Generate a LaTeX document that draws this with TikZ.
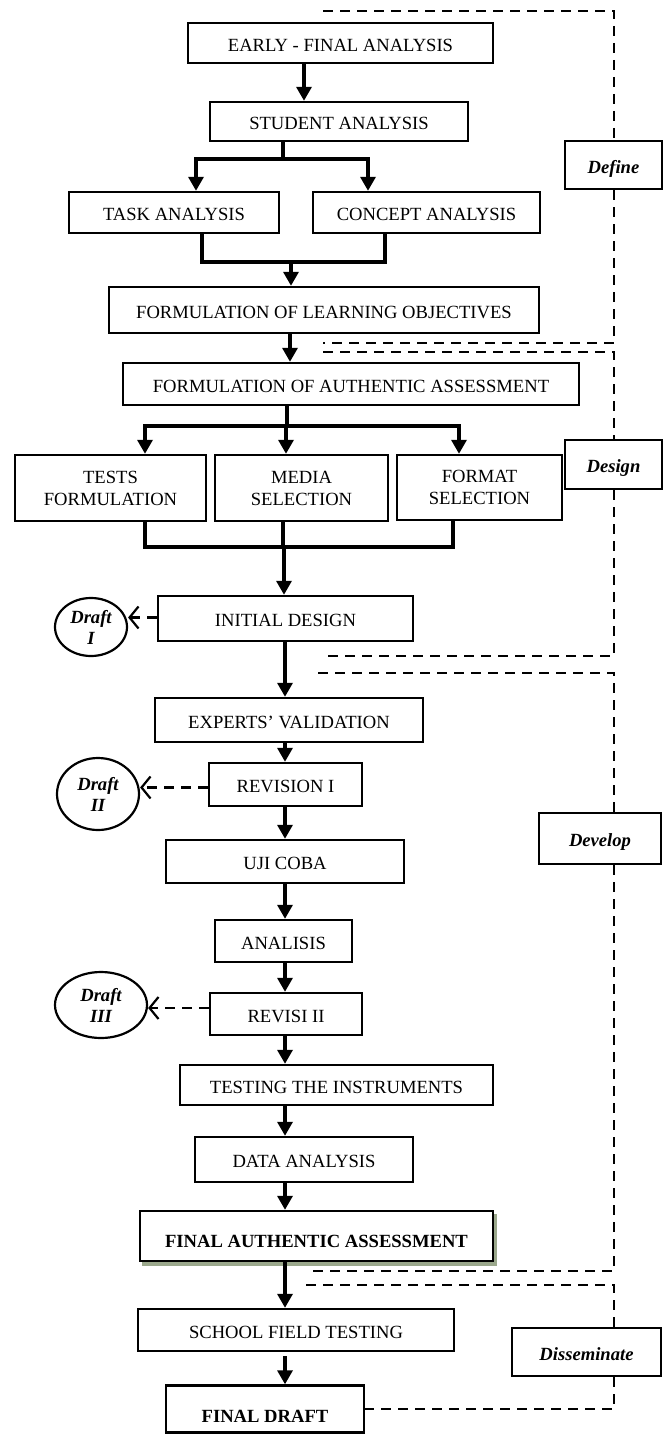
\documentclass[tikz,border=0pt]{standalone}
\usepackage{fontspec}
\setmainfont{Liberation Serif}
\usetikzlibrary{arrows.meta,shapes.geometric,backgrounds}
\definecolor{shadowc}{RGB}{155,168,140}
\begin{document}
\begin{tikzpicture}[x=1pt,y=-1pt,
  box/.style={draw,line width=2.4pt,fill=white,inner sep=0pt,text height=16.3pt,text depth=0pt,font=\fontsize{18.6}{22}\selectfont},
  boxtwo/.style={draw,line width=2.4pt,fill=white,inner sep=0pt,align=center,font=\fontsize{18.6}{22}\selectfont},
  phase/.style={draw,line width=2.2pt,fill=white,inner sep=0pt,text height=16.3pt,text depth=0pt,font=\fontsize{18.6}{22}\selectfont\bfseries\itshape},
  draft/.style={ellipse,draw,line width=2.2pt,fill=white,inner sep=0pt,align=center,font=\fontsize{18.6}{21}\selectfont\bfseries\itshape},
  ln/.style={line width=3.3pt},
  arr/.style={line width=3.3pt,-{Triangle[length=14pt,width=15pt]}},
  dsh/.style={line width=2.4pt,dash pattern=on 10pt off 7pt},
  darr/.style={line width=2.2pt,dash pattern=on 10pt off 7pt,-{Straight Barb[length=9pt,width=22pt,line width=2.2pt]}}
]
\useasboundingbox (0,0) rectangle (664,1434);

% main boxes
\node[box,minimum width=305pt,minimum height=40pt] (early) at (340.5,43) {EARLY - FINAL ANALYSIS};
\node[box,minimum width=258pt,minimum height=39pt] (student) at (339,121.5) {STUDENT ANALYSIS};
\node[box,minimum width=210pt,minimum height=41pt] (task) at (174,212.5) {TASK ANALYSIS};
\node[box,minimum width=227pt,minimum height=41pt] (concept) at (426.5,212.5) {CONCEPT ANALYSIS};
\node[box,minimum width=430pt,minimum height=46pt] (lobj) at (324,310) {FORMULATION OF LEARNING OBJECTIVES};
\node[box,minimum width=456pt,minimum height=42pt] (auth) at (351,384) {FORMULATION OF AUTHENTIC ASSESSMENT};
\node[boxtwo,minimum width=191pt,minimum height=66pt] (tests) at (110.5,488) {TESTS\\FORMULATION};
\node[boxtwo,minimum width=173pt,minimum height=66pt] (media) at (301.5,488) {MEDIA\\SELECTION};
\node[boxtwo,minimum width=165pt,minimum height=65pt] (format) at (479.5,487.5) {FORMAT\\SELECTION};
\node[box,minimum width=255pt,minimum height=45pt] (initial) at (285.5,618.5) {INITIAL DESIGN};
\node[box,minimum width=268pt,minimum height=44pt] (experts) at (289,720) {EXPERTS' VALIDATION};
\node[box,minimum width=153pt,minimum height=43pt] (rev1) at (285.5,784.5) {REVISION I};
\node[box,minimum width=238pt,minimum height=43pt] (uji) at (285,861.5) {UJI COBA};
\node[box,minimum width=137pt,minimum height=42pt] (analisis) at (283.5,941) {ANALISIS};
\node[box,minimum width=152pt,minimum height=42pt] (rev2) at (286,1014) {REVISI II};
\node[box,minimum width=313pt,minimum height=40pt] (testing) at (336.5,1085) {TESTING THE INSTRUMENTS};
\node[box,minimum width=218pt,minimum height=45pt] (data) at (304,1159.5) {DATA ANALYSIS};
\node[box,minimum width=353pt,minimum height=50pt,text height=23.3pt,font=\fontsize{18.6}{22}\selectfont\bfseries] (finalauth) at (316.5,1236) {FINAL AUTHENTIC ASSESSMENT};
\node[box,minimum width=316pt,minimum height=42pt] (school) at (296,1330) {SCHOOL FIELD TESTING};
\node[box,minimum width=198pt,minimum height=47pt,text height=26.3pt,font=\fontsize{18.6}{22}\selectfont\bfseries] (finaldraft) at (265,1409) {FINAL DRAFT};

\begin{scope}[on background layer]
\fill[shadowc] ([xshift=3pt,yshift=-4pt]finalauth.south west) rectangle ([xshift=3pt,yshift=-4pt]finalauth.north east);
\end{scope}

% phase boxes
\node[phase,minimum width=97pt,minimum height=48pt] (define) at (613.5,165) {Define};
\node[phase,minimum width=97pt,minimum height=49pt] (design) at (613.5,464.5) {Design};
\node[phase,minimum width=122pt,minimum height=51pt] (develop) at (600,838.5) {Develop};
\node[phase,minimum width=149pt,minimum height=48pt] (dissem) at (586.5,1352) {Disseminate};

% drafts
\node[draft,minimum width=72pt,minimum height=58pt] (d1) at (91,627) {Draft\\I};
\node[draft,minimum width=82pt,minimum height=72pt] (d2) at (98,794) {Draft\\II};
\node[draft,minimum width=92pt,minimum height=66pt] (d3) at (101,1005) {Draft\\III};

% helper coordinates
\coordinate (ax) at (304,0);
\coordinate (bx) at (290,0);
\coordinate (cx) at (285,0);
\coordinate (vx) at (614,0);
\coordinate (s0) at (283,159);
\coordinate (sl) at (196,159);
\coordinate (sr) at (368,159);
\coordinate (m1) at (202,262);
\coordinate (m2) at (385,262);
\coordinate (m0) at (291,262);
\coordinate (a0) at (287,426);
\coordinate (al) at (145,426);
\coordinate (am) at (286,426);
\coordinate (ar) at (459,426);
\coordinate (n1) at (145,547);
\coordinate (n2) at (283,547);
\coordinate (n3) at (453,547);
\coordinate (n0) at (284,547);

% solid connectors
\draw[arr] (early.south -| ax) -- (student.north -| ax);
\draw[ln] (student.south -| s0) -- (s0);
\draw[arr] (sr) -- (sl) -- (task.north -| sl);
\draw[arr] (sl) -- (sr) -- (concept.north -| sr);
\draw[ln] (task.south -| m1) -- (m1) -- (m2) -- (concept.south -| m2);
\draw[arr] (m0) -- (lobj.north -| m0);
\draw[arr] (lobj.south -| bx) -- (auth.north -| bx);
\draw[ln] (auth.south -| a0) -- (a0);
\draw[arr] (ar) -- (al) -- (tests.north -| al);
\draw[arr] (am) -- (media.north -| am);
\draw[arr] (al) -- (ar) -- (format.north -| ar);
\draw[ln] (tests.south -| n1) -- (n1) -- (n3) -- (format.south -| n3);
\draw[ln] (media.south -| n2) -- (n2);
\draw[arr] (n0) -- (initial.north -| n0);
\draw[arr] (initial.south -| cx) -- (experts.north -| cx);
\draw[arr] (experts.south -| cx) -- (rev1.north -| cx);
\draw[arr] (rev1.south -| cx) -- (uji.north -| cx);
\draw[arr] (uji.south -| cx) -- (analisis.north -| cx);
\draw[arr] (analisis.south -| cx) -- (rev2.north -| cx);
\draw[arr] (rev2.south -| cx) -- (testing.north -| cx);
\draw[arr] (testing.south -| cx) -- (data.north -| cx);
\draw[arr] (data.south -| cx) -- (finalauth.north -| cx);
\draw[arr] (finalauth.south -| cx) -- (school.north -| cx);
\draw[arr] ([yshift=-4pt]school.south -| cx) -- (finaldraft.north -| cx);

% draft arrows
\draw[darr] ([yshift=1pt]initial.west) -- ([yshift=1pt]initial.west -| d1.east);
\draw[darr] ([yshift=-3pt]rev1.west) -- ([yshift=-3pt]rev1.west -| d2.east);
\draw[darr] ([yshift=6pt]rev2.west) -- ([yshift=6pt]rev2.west -| d3.east);

% phase brackets
\coordinate (dfA) at (323,11);
\coordinate (dfB) at (614,11);
\coordinate (dfC) at (614,343);
\coordinate (dfD) at (323,343);
\draw[dsh] (dfA) -- (dfB) -- (define.north -| vx);
\draw[dsh] (define.south -| vx) -- (dfC) -- (dfD);
\coordinate (dsA) at (323,352);
\coordinate (dsB) at (614,352);
\coordinate (dsC) at (614,656);
\coordinate (dsD) at (324,656);
\draw[dsh] (dsA) -- (dsB) -- (design.north -| vx);
\draw[dsh] (design.south -| vx) -- (dsC) -- (dsD);
\coordinate (dvA) at (318,673);
\coordinate (dvB) at (614,673);
\coordinate (dvC) at (614,1271);
\coordinate (dvD) at (306,1271);
\draw[dsh] (dvA) -- (dvB) -- (develop.north -| vx);
\draw[dsh] (develop.south -| vx) -- (dvC) -- (dvD);
\coordinate (diA) at (306,1285);
\coordinate (diB) at (614,1285);
\coordinate (diC) at (614,1409);
\draw[dsh] (diA) -- (diB) -- (dissem.north -| vx);
\draw[dsh] (dissem.south -| vx) -- (diC) -- (finaldraft.east);
\end{tikzpicture}
\end{document}
